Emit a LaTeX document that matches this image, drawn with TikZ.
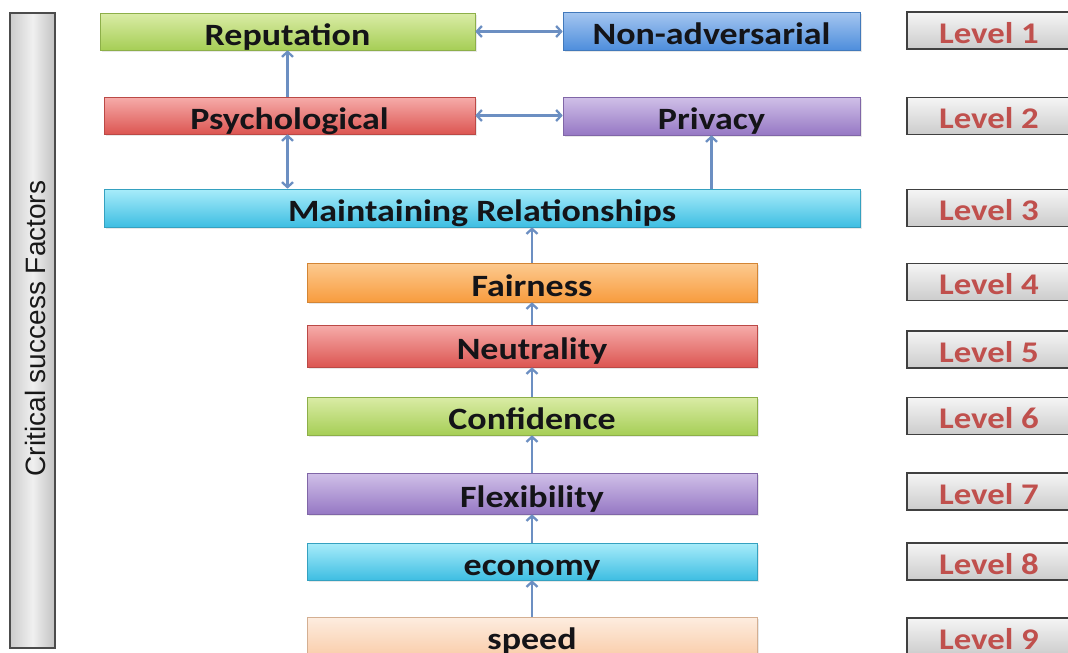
\documentclass[tikz,border=0pt]{standalone}
\usepackage{fontspec}
\usetikzlibrary{arrows.meta,shadows}
\newfontfamily\boxfont{Carlito}[FakeStretch=1.16]
\newfontfamily\sidefont{Liberation Sans}
\definecolor{greenT}{RGB}{218,236,166}
\definecolor{greenB}{RGB}{166,206,86}
\definecolor{blueT}{RGB}{165,198,240}
\definecolor{blueB}{RGB}{78,142,220}
\definecolor{redT}{RGB}{246,172,170}
\definecolor{redB}{RGB}{220,86,82}
\definecolor{purpT}{RGB}{208,192,232}
\definecolor{purpB}{RGB}{150,120,196}
\definecolor{cyanT}{RGB}{168,236,250}
\definecolor{cyanB}{RGB}{62,190,226}
\definecolor{orT}{RGB}{252,202,144}
\definecolor{orB}{RGB}{248,156,62}
\definecolor{peachT}{RGB}{253,237,224}
\definecolor{peachB}{RGB}{250,206,172}
\definecolor{arrowc}{RGB}{108,143,194}
\definecolor{levelc}{RGB}{192,80,77}
\definecolor{txt}{RGB}{20,20,24}
\tikzset{
  cbox/.style 2 args={rectangle, inner sep=0pt, top color=#1, bottom color=#2,
    draw=#2!85!black, line width=0.6pt,
    drop shadow={opacity=0.18, shadow xshift=2pt, shadow yshift=-2pt},
    text=txt, font=\boxfont\bfseries\fontsize{31}{31}\selectfont,
    text height=27pt, text depth=0pt},
  lvl/.style={rectangle, inner sep=0pt, top color=white!96!black, bottom color=white!80!black,
    draw=black!75, line width=1.3pt, minimum width=164pt, minimum height=37pt,
    text=levelc, font=\boxfont\bfseries\fontsize{30}{30}\selectfont,
    text height=25pt, text depth=0pt},
  conn/.style={draw=arrowc, line width=2.3pt, -{Straight Barb[length=5pt,width=11pt]}},
  bconn/.style={draw=arrowc, line width=2.3pt, {Straight Barb[length=5pt,width=11pt]}-{Straight Barb[length=5pt,width=11pt]}}
}
\begin{document}
\begin{tikzpicture}[x=1pt,y=-1pt]
\clip (0,0) rectangle (1068,653);
\fill[white] (0,0) rectangle (1068,653);

% side label
\node[rectangle, inner sep=0pt, minimum width=45pt, minimum height=635pt,
  left color=black!20, right color=black!24, middle color=black!6,
  draw=black!70, line width=1.3pt] (side) at (32.5,330.5) {};
\node[rotate=90, text=black!90, font=\sidefont\fontsize{28}{28}\selectfont,
  text height=20pt, text depth=0pt, inner sep=0pt] (sidelbl) at (35.5,328.5) {Critical success Factors};

% factor boxes
\node[cbox={greenT}{greenB}, minimum width=375pt, minimum height=37pt] (rep) at (287.5,31.5) {Reputation};
\node[cbox={blueT}{blueB}, minimum width=297pt, minimum height=38pt] (nonadv) at (711.5,31) {Non-adversarial};
\node[cbox={redT}{redB}, minimum width=371pt, minimum height=37pt] (psych) at (289.5,115.5) {Psychological};
\node[cbox={purpT}{purpB}, minimum width=297pt, minimum height=38pt] (priv) at (711.5,116) {Privacy};
\node[cbox={cyanT}{cyanB}, minimum width=756pt, minimum height=38pt] (maint) at (482,208) {Maintaining Relationships};
\node[cbox={orT}{orB}, minimum width=450pt, minimum height=39pt] (fair) at (532,282.5) {Fairness};
\node[cbox={redT}{redB}, minimum width=450pt, minimum height=42pt] (neut) at (532,346) {Neutrality};
\node[cbox={greenT}{greenB}, minimum width=450pt, minimum height=38pt] (conf) at (532,416) {Confidence};
\node[cbox={purpT}{purpB}, minimum width=450pt, minimum height=41pt] (flex) at (532,493.5) {Flexibility};
\node[cbox={cyanT}{cyanB}, minimum width=450pt, minimum height=37pt] (econ) at (532,561.5) {economy};
\node[cbox={peachT}{peachB}, minimum width=450pt, minimum height=38pt] (speed) at (532,636) {speed};

% level boxes
\node[lvl] (l1) at (989,30.5) {Level 1};
\node[lvl] (l2) at (989,116) {Level 2};
\node[lvl] (l3) at (989,208) {Level 3};
\node[lvl] (l4) at (989,282) {Level 4};
\node[lvl] (l5) at (989,349.5) {Level 5};
\node[lvl] (l6) at (989,416) {Level 6};
\node[lvl] (l7) at (989,491.5) {Level 7};
\node[lvl] (l8) at (989,561.5) {Level 8};
\node[lvl] (l9) at (989,636.5) {Level 9};

% connectors
\draw[bconn] (rep.east) -- (nonadv.west |- rep.east);
\draw[bconn] (psych.east) -- (priv.west |- psych.east);
\draw[conn] (psych.north -| rep.south) -- (rep.south);
\draw[bconn] (maint.north -| rep.south) -- (psych.south -| rep.south);
\draw[conn] (maint.north -| priv.south) -- (priv.south);
\draw[conn] (fair.north) -- (fair.north |- maint.south);
\draw[conn] (neut.north) -- (fair.south);
\draw[conn] (conf.north) -- (neut.south);
\draw[conn] (flex.north) -- (conf.south);
\draw[conn] (econ.north) -- (flex.south);
\draw[conn] (speed.north) -- (econ.south);
\end{tikzpicture}
\end{document}
